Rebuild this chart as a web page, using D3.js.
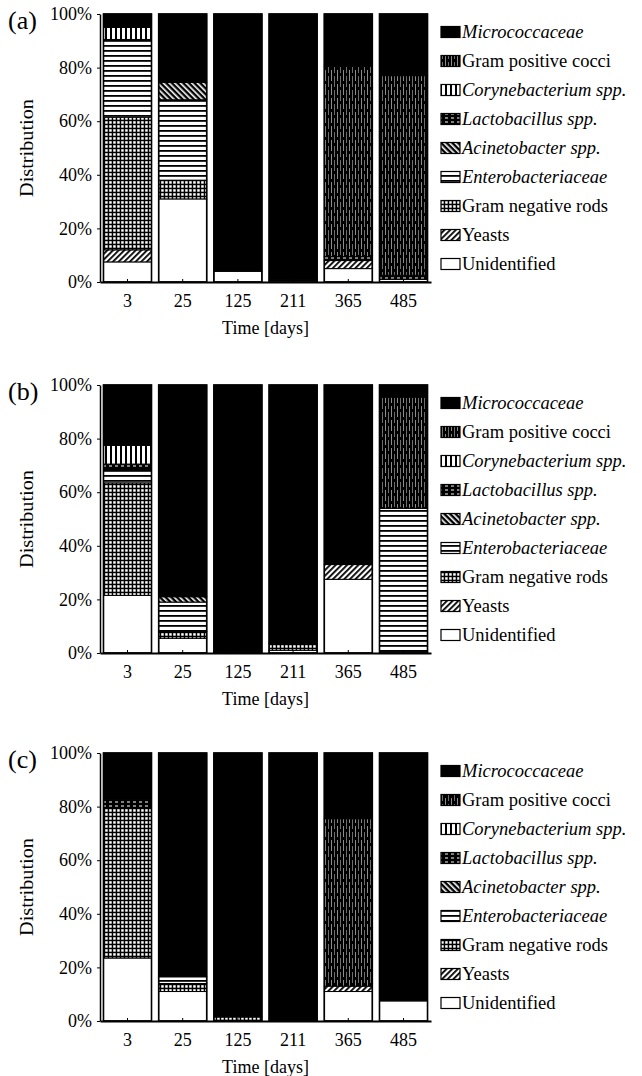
<!DOCTYPE html>
<html>
<head>
<meta charset="utf-8">
<script src="https://cdn.jsdelivr.net/npm/d3@7"></script>
<style>
  html, body { margin: 0; padding: 0; background: #fff; }
  svg { display: block; }
  svg text { font-family: "Liberation Serif", Tinos, "DejaVu Serif", serif !important; fill: #000; }
</style>
</head>
<body>
<svg id="chart" width="642" height="1076"></svg>
<script>
// Sampling days (x categories)
const days = ["3", "25", "125", "211", "365", "485"];

// Taxa, listed top of legend first (= top of each stacked bar)
const taxa = [
  "Micrococcaceae", "Gram positive cocci", "Corynebacterium spp.",
  "Lactobacillus spp.", "Acinetobacter spp.", "Enterobacteriaceae",
  "Gram negative rods", "Yeasts", "Unidentified"
];
const italicTaxa = ["Micrococcaceae", "Corynebacterium spp.", "Lactobacillus spp.",
                    "Acinetobacter spp.", "Enterobacteriaceae"];

const yTicks = [0, 20, 40, 60, 80, 100];
const panelLabels = ["(a)", "(b)", "(c)"];

// Distribution (%) per taxon (rows, same order as taxa) and day (columns)
const distA = [
  [5,    25.5, 96, 99, 19.5, 23],   // Micrococcaceae
  [0,    0,    0,  0,  71,   74.5], // Gram positive cocci
  [4.5,  0,    0,  0,  0,    0],    // Corynebacterium spp.
  [0,    0,    0,  0,  1.5,  1.5],  // Lactobacillus spp.
  [0,    6.5,  0,  0,  0,    0],    // Acinetobacter spp.
  [29,   30,   0,  0,  0,    0],    // Enterobacteriaceae
  [49.5, 7,    0,  1,  0,    0],    // Gram negative rods
  [4.5,  0,    0,  0,  3,    0],    // Yeasts
  [7.5,  31,   4,  0,  5,    1]     // Unidentified
];
const distB = [
  [22.5, 79,  99.5, 96.5, 67,   4.5],
  [0,    0,   0,    0,    0,    41.5],
  [7,    0,   0,    0,    0,    0],
  [2,    0,   0,    0,    0,    0],
  [0,    2,   0,    0,    0,    0],
  [5,    11,  0,    0,    0,    53.5],
  [42,   2.5, 0.5,  2.5,  0,    0],
  [0,    0,   0,    0,    5.5,  0],
  [21.5, 5.5, 0,    1,    27.5, 0.5]
];
const distC = [
  [17.5, 83.5, 98.5, 100, 24.5, 92.5],
  [0,    0,    0,    0,   62.5, 0],
  [0,    0,    0,    0,   0,    0],
  [3,    0,    0,    0,   0,    0],
  [0,    0,    0,    0,   0,    0],
  [0,    2.5,  0,    0,   0,    0],
  [56,   3,    1.5,  0,   0,    0],
  [0,    0,    0,    0,   2,    0],
  [23.5, 11,   0,    0,   11,   7.5]
];
const panels = [distA, distB, distC];

const SERIF = "'Liberation Serif', Tinos, 'DejaVu Serif', serif";

// ---------- layout ----------
const svg = d3.select("#chart").attr("font-family", SERIF);
svg.append("rect").attr("width", 642).attr("height", 1076).attr("fill", "#fff");

const plotLeft = 100, plotRight = 431, plotH = 268;
const panelTops = [14, 385, 753];

const x = d3.scaleBand().domain(days).range([plotLeft, plotRight])
  .paddingInner(0.13).paddingOuter(0.063);

// ---------- fill patterns ----------
const defs = svg.append("defs");
const patId = {};
function pattern(key, w, h, build, transform) {
  const id = "pat-" + key;
  const p = defs.append("pattern").attr("id", id)
    .attr("patternUnits", "userSpaceOnUse").attr("width", w).attr("height", h);
  if (transform) p.attr("patternTransform", transform);
  build(p);
  patId[key] = "url(#" + id + ")";
}
// Gram positive cocci: black with broken light vertical streaks
pattern("gpc", 6, 14, p => {
  p.append("rect").attr("width", 6).attr("height", 14).attr("fill", "#000");
  p.append("rect").attr("x", 1).attr("y", 0).attr("width", 1).attr("height", 11).attr("fill", "#8c8c8c");
  p.append("rect").attr("x", 4).attr("y", 6).attr("width", 1).attr("height", 11).attr("fill", "#6e6e6e");
  p.append("rect").attr("x", 4).attr("y", -8).attr("width", 1).attr("height", 11).attr("fill", "#6e6e6e");
});
// Corynebacterium: vertical bars on white
pattern("cory", 5, 5, p => {
  p.append("rect").attr("width", 5).attr("height", 5).attr("fill", "#fff");
  p.append("rect").attr("x", 0).attr("width", 2).attr("height", 5).attr("fill", "#000");
});
// Lactobacillus: black with dashed white horizontal lines
pattern("lacto", 6, 4, p => {
  p.append("rect").attr("width", 6).attr("height", 4).attr("fill", "#000");
  p.append("rect").attr("x", 1).attr("y", 1.5).attr("width", 3).attr("height", 1).attr("fill", "#fff");
});
// Acinetobacter: dense "\" hatching
pattern("acin", 4, 4, p => {
  p.append("rect").attr("width", 4).attr("height", 4).attr("fill", "#fff");
  p.append("rect").attr("width", 4).attr("height", 2.4).attr("fill", "#000");
}, "rotate(45)");
// Enterobacteriaceae: horizontal lines on white
pattern("entero", 5, 5, p => {
  p.append("rect").attr("width", 5).attr("height", 5).attr("fill", "#fff");
  p.append("rect").attr("y", 0).attr("width", 5).attr("height", 1.8).attr("fill", "#000");
});
// Gram negative rods: checked grid
pattern("gnr", 4, 4, p => {
  p.append("rect").attr("width", 4).attr("height", 4).attr("fill", "#000");
  p.append("rect").attr("x", 1.2).attr("y", 1.2).attr("width", 2.5).attr("height", 2.5).attr("fill", "#fff");
});
// Yeasts: "/" hatching
pattern("yeast", 4, 4, p => {
  p.append("rect").attr("width", 4).attr("height", 4).attr("fill", "#fff");
  p.append("rect").attr("width", 4).attr("height", 1.8).attr("fill", "#000");
}, "rotate(-45)");

const fills = {
  "Micrococcaceae": "#000",
  "Gram positive cocci": patId.gpc,
  "Corynebacterium spp.": patId.cory,
  "Lactobacillus spp.": patId.lacto,
  "Acinetobacter spp.": patId.acin,
  "Enterobacteriaceae": patId.entero,
  "Gram negative rods": patId.gnr,
  "Yeasts": patId.yeast,
  "Unidentified": "#fff"
};

// ---------- panels ----------
panels.forEach((dist, pi) => {
  const top = panelTops[pi];
  const bottom = top + plotH;
  const g = svg.append("g");
  const y = d3.scaleLinear().domain([0, 100]).range([bottom, top]);

  // rows keyed by day for d3.stack
  const rows = days.map((d, di) => {
    const r = { day: d };
    taxa.forEach((t, ti) => { r[t] = dist[ti][di]; });
    return r;
  });
  const stackKeys = taxa.slice().reverse(); // Unidentified at the bottom
  const series = d3.stack().keys(stackKeys)(rows);

  series.forEach(s => {
    g.append("g").selectAll("rect")
      .data(s.filter(d => d[1] - d[0] > 0))
      .join("rect")
      .attr("x", d => x(d.data.day))
      .attr("width", x.bandwidth())
      .attr("y", d => y(d[1]))
      .attr("height", d => y(d[0]) - y(d[1]))
      .attr("fill", fills[s.key])
      .attr("stroke", "#000")
      .attr("stroke-width", 1);
  });

  // bar outlines
  g.append("g").selectAll("rect")
    .data(days)
    .join("rect")
    .attr("x", d => x(d))
    .attr("width", x.bandwidth())
    .attr("y", y(100))
    .attr("height", y(0) - y(100))
    .attr("fill", "none")
    .attr("stroke", "#000")
    .attr("stroke-width", 1.6);

  // y axis
  const yAxis = g.append("g")
    .attr("transform", `translate(${plotLeft},0)`)
    .call(d3.axisLeft(y).tickValues(yTicks).tickFormat(d => d + "%")
      .tickSize(3).tickPadding(5).tickSizeOuter(0));
  yAxis.attr("font-family", SERIF);
  yAxis.select(".domain").attr("stroke", "#000").attr("stroke-width", 1.5);
  yAxis.selectAll("text").attr("font-size", 18);

  // x axis
  const xAxis = g.append("g")
    .attr("transform", `translate(0,${bottom})`)
    .call(d3.axisBottom(x).tickSize(-3).tickPadding(12).tickSizeOuter(0));
  xAxis.attr("font-family", SERIF);
  xAxis.select(".domain").attr("stroke", "#000").attr("stroke-width", 2);
  xAxis.selectAll("text").attr("font-size", 18);

  // axis titles
  g.append("text")
    .attr("x", (plotLeft + plotRight) / 2)
    .attr("y", bottom + 46)
    .attr("text-anchor", "middle")
    .attr("dominant-baseline", "central")
    .attr("font-size", 18)
    .text("Time [days]");

  g.append("text")
    .attr("transform", `translate(27,${(top + bottom) / 2}) rotate(-90)`)
    .attr("text-anchor", "middle")
    .attr("dominant-baseline", "central")
    .attr("font-size", 18)
    .attr("textLength", 98)
    .attr("lengthAdjust", "spacingAndGlyphs")
    .text("Distribution");

  g.append("text")
    .attr("x", 8)
    .attr("y", top + 6)
    .attr("dominant-baseline", "central")
    .attr("font-size", 26)
    .text(panelLabels[pi]);

  // legend
  const leg = g.append("g");
  taxa.forEach((t, i) => {
    const cy = top + 18 + i * 29;
    leg.append("rect")
      .attr("x", 441).attr("y", cy - 5.5)
      .attr("width", 19).attr("height", 11)
      .attr("fill", fills[t])
      .attr("stroke", "#000").attr("stroke-width", 1.2);
    leg.append("text")
      .attr("x", 462).attr("y", cy)
      .attr("dominant-baseline", "central")
      .attr("font-size", 18.5)
      .attr("font-style", italicTaxa.includes(t) ? "italic" : "normal")
      .text(t);
  });
});
</script>
</body>
</html>
